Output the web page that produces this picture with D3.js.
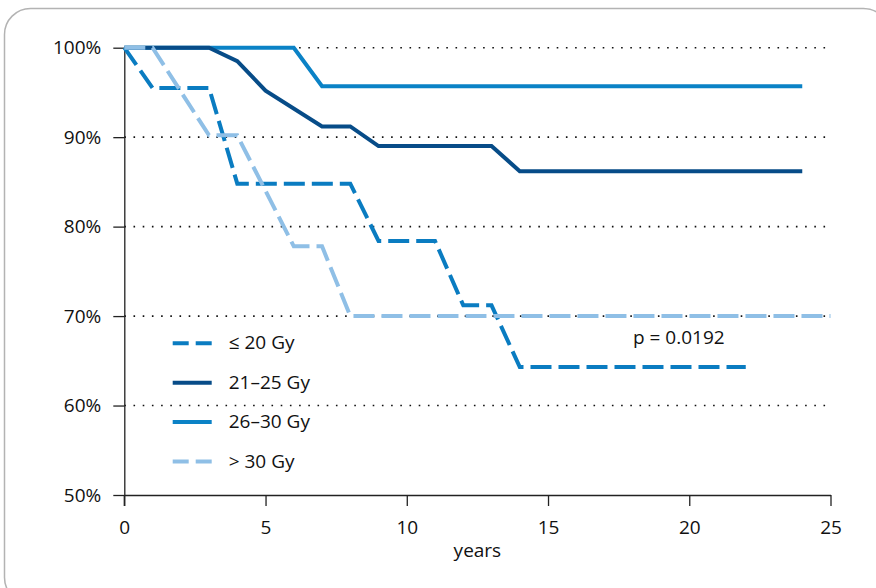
<!DOCTYPE html>
<html>
<head>
<meta charset="utf-8">
<script src="https://cdn.jsdelivr.net/npm/d3@7"></script>
<style>
  body { margin: 0; background: #fff; }
  svg { display: block; font-family: "Open Sans", sans-serif; }
</style>
</head>
<body>
<div id="chart"></div>
<script>
// --- data ---
const seriesNames = ["≤ 20 Gy", "21–25 Gy", "26–30 Gy", "> 30 Gy"];
const le20 = [[0, 100], [1, 95.5], [3, 95.5], [4, 84.8], [8, 84.8], [9, 78.4], [11, 78.4], [12, 71.2], [13, 71.2], [14, 64.3], [22, 64.3]];
const gy21to25 = [[0, 100], [3, 100], [4, 98.5], [5, 95.2], [7, 91.2], [8, 91.2], [9, 89], [13, 89], [14, 86.2], [24, 86.2]];
const gy26to30 = [[0, 100], [6, 100], [7, 95.7], [24, 95.7]];
const gt30 = [[0, 100], [1, 100], [3, 90.2], [4, 90.2], [6, 77.8], [7, 77.8], [8, 70], [25, 70]];
const xTicks = [0, 5, 10, 15, 20, 25];
const yTicks = [50, 60, 70, 80, 90, 100];
const gridValues = [60, 70, 80, 90, 100];
const pValue = "p = 0.0192";

const W = 876, H = 588;
const FONT_SIZE = "19px";
const TEXT_COLOR = "#111";
const svg = d3.select("#chart").append("svg").attr("width", W).attr("height", H);

// frame
svg.append("rect")
    .attr("x", 4.5).attr("y", 8.5)
    .attr("width", 885).attr("height", 595)
    .attr("rx", 26)
    .attr("fill", "#fff")
    .attr("stroke", "#b3b3b3")
    .attr("stroke-width", 1.5);

const x = d3.scaleLinear().domain([0, 25]).range([124.3, 830.5]);
const y = d3.scaleLinear().domain([50, 100]).range([495, 47.7]);

// dotted grid
svg.append("g").selectAll("line")
    .data(gridValues)
    .join("line")
    .attr("x1", x(0)).attr("x2", x(25))
    .attr("y1", d => y(d)).attr("y2", d => y(d))
    .attr("stroke", "#111")
    .attr("stroke-width", 1.6)
    .attr("stroke-dasharray", "1.6 7.6");

// axes
const xAxis = svg.append("g")
    .attr("transform", `translate(0,${y(50)})`)
    .call(d3.axisBottom(x).tickValues(xTicks).tickSize(11).tickSizeOuter(0).tickPadding(15));
const yAxis = svg.append("g")
    .attr("transform", `translate(${x(0)},0)`)
    .call(d3.axisLeft(y).tickValues(yTicks).tickSize(11).tickSizeOuter(0).tickPadding(12)
        .tickFormat(d => d + "%"));

[xAxis, yAxis].forEach(g => {
    g.select(".domain").attr("stroke", "#222").attr("stroke-width", 1.3);
    g.selectAll(".tick line").attr("stroke", "#222").attr("stroke-width", 1.3);
    g.selectAll(".tick text").attr("fill", TEXT_COLOR).style("font-size", FONT_SIZE).style("font-family", "'Open Sans', sans-serif");
});
// y axis line runs a little below the x axis
svg.append("line")
    .attr("x1", x(0)).attr("x2", x(0))
    .attr("y1", y(50)).attr("y2", y(50) + 11)
    .attr("stroke", "#222").attr("stroke-width", 1.3);

svg.append("text")
    .attr("x", (x(0) + x(25)) / 2).attr("y", 557)
    .attr("text-anchor", "middle")
    .attr("fill", TEXT_COLOR)
    .style("font-size", FONT_SIZE)
    .text("years");

// survival curves
const series = [
    { name: seriesNames[2], values: gy26to30, color: "#0b82c6", dash: null },
    { name: seriesNames[1], values: gy21to25, color: "#074c88", dash: null },
    { name: seriesNames[0], values: le20, color: "#0a7cc1", dash: "21 7" },
    { name: seriesNames[3], values: gt30, color: "#8fbfe6", dash: "21 7" }
];
const line = d3.line().x(d => x(d[0])).y(d => y(d[1]));

svg.append("g").selectAll("path")
    .data(series)
    .join("path")
    .attr("d", d => line(d.values))
    .attr("fill", "none")
    .attr("stroke", d => d.color)
    .attr("stroke-width", 4)
    .attr("stroke-dasharray", d => d.dash);

// legend
const legendOrder = [series[2], series[1], series[0], series[3]];
const legend = svg.append("g").selectAll("g")
    .data(legendOrder)
    .join("g")
    .attr("transform", (d, i) => `translate(172.7,${343.3 + i * 39.4})`);
legend.append("line")
    .attr("x1", 0).attr("x2", 39)
    .attr("stroke", d => d.color)
    .attr("stroke-width", 4)
    .attr("stroke-dasharray", d => d.dash ? "16 7" : null);
legend.append("text")
    .attr("x", 56).attr("y", 6)
    .attr("fill", TEXT_COLOR)
    .style("font-size", FONT_SIZE)
    .text(d => d.name);

svg.append("text")
    .attr("x", 633).attr("y", 344)
    .attr("fill", TEXT_COLOR)
    .style("font-size", FONT_SIZE)
    .text(pValue);
</script>
</body>
</html>
